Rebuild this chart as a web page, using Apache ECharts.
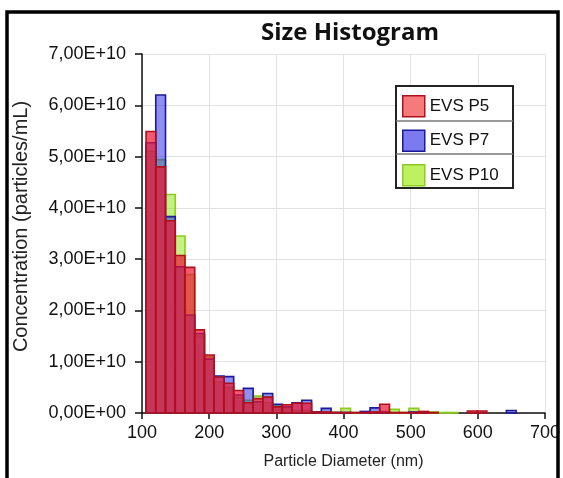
<!DOCTYPE html>
<html>
<head>
<meta charset="utf-8">
<script src="https://cdn.jsdelivr.net/npm/echarts@6/dist/echarts.min.js"></script>
<style>
html,body{margin:0;padding:0;background:#fff;}
#chart{width:563px;height:478px;}
</style>
</head>
<body>
<div id="chart"></div>
<script>
// Histogram bin edges (nm)
const binEdges = [106, 120.5, 135, 149.5, 164, 178.5, 193, 207.5, 222, 236.5, 251, 265.5, 280, 294.5, 309, 323.5, 338, 352.5, 367, 381.5, 396, 410.5, 425, 439.5, 454, 468.5, 483, 497.5, 512, 526.5, 541, 555.5, 570, 584.5, 599, 613.5, 628, 642.5, 657, 671.5, 686];

// Concentrations (particles/mL) per bin
const evsP5 = [5.49e10, 4.80e10, 3.75e10, 3.07e10, 2.84e10, 1.62e10, 1.13e10, 0.70e10, 0.58e10, 0.44e10, 0.20e10, 0.28e10, 0.31e10, 0.12e10, 0.16e10, 0.19e10, 0.19e10, 0.02e10, 0.02e10, 0.01e10, 0.01e10, 0.01e10, 0.01e10, 0.02e10, 0.17e10, 0.01e10, 0.01e10, 0.01e10, 0.03e10, 0.01e10, 0, 0, 0, 0.04e10, 0.04e10, 0, 0, 0, 0, 0];
const evsP7 = [5.27e10, 6.20e10, 3.83e10, 2.85e10, 1.91e10, 1.55e10, 1.05e10, 0.72e10, 0.71e10, 0.35e10, 0.48e10, 0.22e10, 0.38e10, 0.17e10, 0.12e10, 0.20e10, 0.25e10, 0.02e10, 0.09e10, 0.01e10, 0.01e10, 0, 0.03e10, 0.10e10, 0.02e10, 0, 0, 0.02e10, 0.01e10, 0, 0, 0, 0, 0, 0, 0, 0, 0.05e10, 0, 0];
const evsP10 = [5.10e10, 4.94e10, 4.26e10, 3.45e10, 2.70e10, 1.50e10, 1.10e10, 0.60e10, 0.50e10, 0.30e10, 0.25e10, 0.33e10, 0.20e10, 0.15e10, 0.10e10, 0.05e10, 0.05e10, 0.02e10, 0.01e10, 0.01e10, 0.09e10, 0.01e10, 0.01e10, 0.02e10, 0.03e10, 0.07e10, 0.01e10, 0.09e10, 0.01e10, 0.02e10, 0.01e10, 0.01e10, 0, 0, 0, 0, 0, 0, 0, 0];

const seriesNames = ['EVS P5', 'EVS P7', 'EVS P10'];
const yTickLabels = ['0,00E+00', '1,00E+10', '2,00E+10', '3,00E+10', '4,00E+10', '5,00E+10', '6,00E+10', '7,00E+10'];
const xTickLabels = ['100', '200', '300', '400', '500', '600', '700'];

const fills = ['rgba(235,20,50,0.70)', 'rgba(40,40,225,0.52)', 'rgba(150,230,30,0.55)'];
const strokes = ['#b0101e', '#1a1a9a', '#8ccc20'];
const legendFills = ['#f57a7a', '#7b7bef', '#bff060'];

function toData(vals) {
  return vals.map((v, i) => [binEdges[i], binEdges[i + 1], v]);
}

function makeRender(idx) {
  return function (params, api) {
    const x0 = api.value(0), x1 = api.value(1), v = api.value(2);
    if (!v) return null;
    const pTop = api.coord([x0, v]);
    const pBot = api.coord([x1, 0]);
    return {
      type: 'rect',
      shape: { x: pTop[0], y: pTop[1], width: pBot[0] - pTop[0], height: pBot[1] - pTop[1] },
      style: { fill: fills[idx], stroke: strokes[idx], lineWidth: 1.6 }
    };
  };
}

const valuesList = [evsP5, evsP7, evsP10];
// draw order: P10 bottom, P7, P5 on top
const drawOrder = [2, 1, 0];
const series = drawOrder.map(idx => ({
  name: seriesNames[idx],
  type: 'custom',
  renderItem: makeRender(idx),
  encode: { x: [0, 1], y: 2 },
  itemStyle: { color: legendFills[idx], borderColor: strokes[idx] },
  data: toData(valuesList[idx]),
  z: 2 + (2 - idx) * 0.1
}));

const chart = echarts.init(document.getElementById('chart'), null, { renderer: 'canvas' });
chart.setOption({
  animation: false,
  backgroundColor: '#fff',
  title: {
    text: 'Size Histogram',
    left: 345, top: 16, textAlign: 'center',
    textStyle: { fontFamily: 'Open Sans', fontWeight: 'bold', fontSize: 24, color: '#111' }
  },
  grid: { left: 142, right: 15, top: 54, bottom: 65 },
  xAxis: {
    type: 'value', min: 100, max: 700, interval: 100,
    name: 'Particle Diameter (nm)', nameLocation: 'middle', nameGap: 41,
    nameTextStyle: { fontFamily: 'Liberation Sans', fontSize: 16, color: '#222' },
    axisLine: { lineStyle: { color: '#111', width: 1.5 } },
    axisTick: { show: true, length: 6, lineStyle: { color: '#111', width: 1.5 } },
    axisLabel: {
      margin: 11, fontFamily: 'Liberation Sans', fontSize: 18, color: '#111',
      formatter: v => xTickLabels[Math.round((v - 100) / 100)]
    },
    splitLine: { show: true, lineStyle: { color: '#e2e2e2', width: 1 } }
  },
  yAxis: {
    type: 'value', min: 0, max: 7e10, interval: 1e10,
    name: 'Concentration (particles/mL)', nameLocation: 'middle', nameGap: 111, nameRotate: 90,
    nameTextStyle: { fontFamily: 'Liberation Sans', fontSize: 20, color: '#222', padding: [0, 0, 0, 14] },
    axisLine: { show: true, lineStyle: { color: '#111', width: 1.5 } },
    axisTick: { show: true, length: 7, lineStyle: { color: '#111', width: 1.5 } },
    axisLabel: {
      margin: 16, fontFamily: 'Liberation Sans', fontSize: 18, color: '#111',
      formatter: v => yTickLabels[Math.round(v / 1e10)]
    },
    splitLine: { show: true, lineStyle: { color: '#e2e2e2', width: 1 } }
  },
  legend: {
    orient: 'vertical', left: 397, top: 90,
    itemWidth: 22, itemHeight: 21, itemGap: 12,
    icon: 'rect',
    textStyle: { fontFamily: 'Liberation Sans', fontSize: 17, color: '#111' },
    data: seriesNames.map((n, i) => ({
      name: n,
      itemStyle: { color: legendFills[i], borderColor: strokes[i], borderWidth: 1.5 }
    })),
    z: 10
  },
  graphic: [
    { type: 'rect', z: 3, shape: { x: 396, y: 86, width: 117, height: 102 },
      style: { fill: '#fff', stroke: '#222', lineWidth: 2 } },
    { type: 'line', z: 3, shape: { x1: 396, y1: 121, x2: 513, y2: 121 },
      style: { stroke: '#777', lineWidth: 1.5 } },
    { type: 'line', z: 3, shape: { x1: 396, y1: 154, x2: 513, y2: 154 },
      style: { stroke: '#777', lineWidth: 1.5 } },
    { type: 'rect', z: 20, shape: { x: 7, y: 12, width: 551, height: 480 },
      style: { fill: null, stroke: '#000', lineWidth: 3.5 } }
  ],
  series: series
});
</script>
</body>
</html>
